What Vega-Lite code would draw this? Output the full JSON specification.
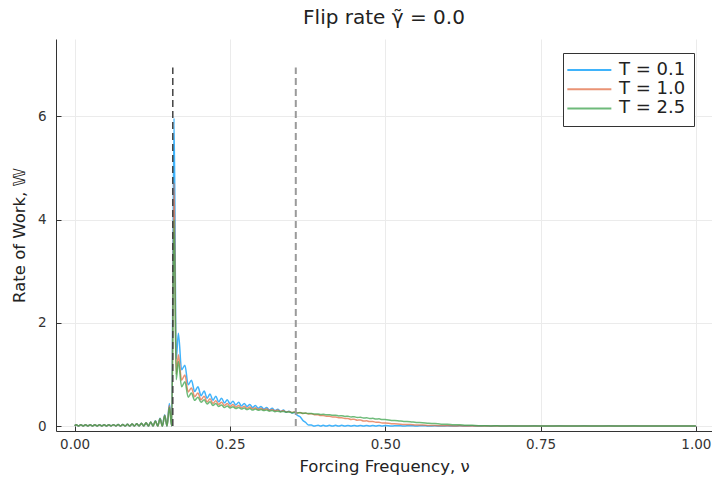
{
  "$schema": "https://vega.github.io/schema/vega-lite/v6.json",
  "width": 656,
  "height": 392,
  "autosize": {"type": "none"},
  "padding": {"left": 56, "top": 39, "right": 0, "bottom": 46},
  "background": "white",
  "title": {"text": "Flip rate γ̃ = 0.0", "fontSize": 20, "fontWeight": "normal", "color": "#222222", "anchor": "middle", "baseline": "alphabetic", "offset": 15, "dy": 20},
  "datasets": {
    "T01": [
      {"nu":0,"w":0.005},{"nu":0.0025,"w":0.025},{"nu":0.00625,"w":0.003},{"nu":0.01,"w":0.025},{"nu":0.01375,"w":0.003},{"nu":0.0175,"w":0.025},{"nu":0.02125,"w":0.003},{"nu":0.025,"w":0.025},{"nu":0.02875,"w":0.003},{"nu":0.0325,"w":0.025},{"nu":0.03625,"w":0.003},{"nu":0.04,"w":0.025},{"nu":0.04375,"w":0.003},{"nu":0.0475,"w":0.025},{"nu":0.05125,"w":0.003},{"nu":0.055,"w":0.027},{"nu":0.05875,"w":0.003},{"nu":0.0625,"w":0.028},{"nu":0.06625,"w":0.003},{"nu":0.07,"w":0.03},{"nu":0.07375,"w":0.002},{"nu":0.0775,"w":0.032},{"nu":0.08125,"w":0.002},{"nu":0.085,"w":0.035},{"nu":0.08875,"w":0.002},{"nu":0.0925,"w":0.04},{"nu":0.09625,"w":0.002},{"nu":0.1,"w":0.045},{"nu":0.10375,"w":0.001},{"nu":0.1075,"w":0.055},{"nu":0.11125,"w":0.001},{"nu":0.115,"w":0.065},{"nu":0.11875,"w":0.001},{"nu":0.1225,"w":0.08},{"nu":0.12625,"w":0},{"nu":0.13,"w":0.105},{"nu":0.13375,"w":0},{"nu":0.1375,"w":0.15},{"nu":0.14125,"w":0},{"nu":0.145,"w":0.22},{"nu":0.14875,"w":0},{"nu":0.1525,"w":0.44},{"nu":0.15625,"w":0},{"nu":0.16,"w":5.97},{"nu":0.1635,"w":1.3},
      {"nu":0.167,"w":1.8},{"nu":0.1722,"w":1.09},{"nu":0.1775,"w":1.18},{"nu":0.1828,"w":0.8},{"nu":0.188,"w":0.89},{"nu":0.1932,"w":0.67},{"nu":0.1985,"w":0.76},{"nu":0.2035,"w":0.59},{"nu":0.2085,"w":0.68},{"nu":0.2132,"w":0.54},{"nu":0.218,"w":0.62},{"nu":0.2226,"w":0.5},{"nu":0.2272,"w":0.58},{"nu":0.2318,"w":0.47},{"nu":0.2365,"w":0.54},{"nu":0.2411,"w":0.45},{"nu":0.2457,"w":0.51},{"nu":0.2502,"w":0.43},{"nu":0.2548,"w":0.48},{"nu":0.2594,"w":0.41},{"nu":0.264,"w":0.46},{"nu":0.2685,"w":0.39},{"nu":0.273,"w":0.44},{"nu":0.2775,"w":0.38},{"nu":0.282,"w":0.42},{"nu":0.2865,"w":0.36},{"nu":0.291,"w":0.4},{"nu":0.2955,"w":0.345},{"nu":0.3,"w":0.38},{"nu":0.3045,"w":0.33},{"nu":0.309,"w":0.36},{"nu":0.3135,"w":0.315},{"nu":0.318,"w":0.345},{"nu":0.3225,"w":0.3},{"nu":0.327,"w":0.325},{"nu":0.3315,"w":0.285},{"nu":0.336,"w":0.31},{"nu":0.3405,"w":0.27},{"nu":0.345,"w":0.29},{"nu":0.3495,"w":0.255},{"nu":0.354,"w":0.265},{"nu":0.3585,"w":0.21},{"nu":0.363,"w":0.18},{"nu":0.3675,"w":0.11},{"nu":0.372,"w":0.07},{"nu":0.3765,"w":0.02},{"nu":0.381,"w":0.02},{"nu":0.3855,"w":0},
      {"nu":0.392,"w":0.018},{"nu":0.396,"w":0},{"nu":0.4,"w":0.015},{"nu":0.405,"w":0},{"nu":0.41,"w":0.015},{"nu":0.415,"w":0},{"nu":0.42,"w":0.014},{"nu":0.425,"w":0},{"nu":0.43,"w":0.014},{"nu":0.435,"w":0},{"nu":0.44,"w":0.013},{"nu":0.445,"w":0},{"nu":0.45,"w":0.013},{"nu":0.455,"w":0},{"nu":0.46,"w":0.012},{"nu":0.465,"w":0},{"nu":0.47,"w":0.012},{"nu":0.475,"w":0},{"nu":0.48,"w":0.011},{"nu":0.485,"w":0},{"nu":0.49,"w":0.011},{"nu":0.495,"w":0},{"nu":0.5,"w":0.01},
      {"nu":0.51,"w":0},{"nu":0.52,"w":0.009},{"nu":0.53,"w":0},{"nu":0.54,"w":0.009},{"nu":0.55,"w":0},{"nu":0.56,"w":0.009},{"nu":0.57,"w":0},{"nu":0.58,"w":0.008},{"nu":0.59,"w":0},{"nu":0.6,"w":0.008},{"nu":0.61,"w":0},{"nu":0.62,"w":0.008},{"nu":0.63,"w":0},{"nu":0.64,"w":0.007},{"nu":0.65,"w":0},{"nu":0.66,"w":0.007},{"nu":0.67,"w":0},{"nu":0.68,"w":0.007},{"nu":0.69,"w":0},{"nu":0.7,"w":0.006},
      {"nu":0.72,"w":0},{"nu":0.74,"w":0.005},{"nu":0.76,"w":0},{"nu":0.78,"w":0.005},{"nu":0.8,"w":0},{"nu":0.82,"w":0.005},{"nu":0.84,"w":0},{"nu":0.86,"w":0.005},{"nu":0.88,"w":0},{"nu":0.9,"w":0.005},{"nu":0.92,"w":0},{"nu":0.94,"w":0.004},{"nu":0.96,"w":0},{"nu":0.98,"w":0.004},{"nu":1.0,"w":0}
    ],
    "T10": [
      {"nu":0,"w":0.005},{"nu":0.0025,"w":0.025},{"nu":0.00625,"w":0.003},{"nu":0.01,"w":0.025},{"nu":0.01375,"w":0.003},{"nu":0.0175,"w":0.025},{"nu":0.02125,"w":0.003},{"nu":0.025,"w":0.025},{"nu":0.02875,"w":0.003},{"nu":0.0325,"w":0.025},{"nu":0.03625,"w":0.003},{"nu":0.04,"w":0.025},{"nu":0.04375,"w":0.003},{"nu":0.0475,"w":0.025},{"nu":0.05125,"w":0.003},{"nu":0.055,"w":0.027},{"nu":0.05875,"w":0.003},{"nu":0.0625,"w":0.028},{"nu":0.06625,"w":0.003},{"nu":0.07,"w":0.03},{"nu":0.07375,"w":0.002},{"nu":0.0775,"w":0.032},{"nu":0.08125,"w":0.002},{"nu":0.085,"w":0.035},{"nu":0.08875,"w":0.002},{"nu":0.0925,"w":0.04},{"nu":0.09625,"w":0.002},{"nu":0.1,"w":0.045},{"nu":0.10375,"w":0.001},{"nu":0.1075,"w":0.055},{"nu":0.11125,"w":0.001},{"nu":0.115,"w":0.065},{"nu":0.11875,"w":0.001},{"nu":0.1225,"w":0.08},{"nu":0.12625,"w":0},{"nu":0.13,"w":0.1},{"nu":0.13375,"w":0},{"nu":0.1375,"w":0.14},{"nu":0.14125,"w":0},{"nu":0.145,"w":0.21},{"nu":0.14875,"w":0},{"nu":0.1525,"w":0.4},{"nu":0.15625,"w":0},{"nu":0.16,"w":4.71},{"nu":0.1635,"w":1.0},
      {"nu":0.167,"w":1.38},{"nu":0.1722,"w":0.89},{"nu":0.1775,"w":0.99},{"nu":0.1828,"w":0.66},{"nu":0.188,"w":0.74},{"nu":0.1932,"w":0.57},{"nu":0.1985,"w":0.64},{"nu":0.2035,"w":0.51},{"nu":0.2085,"w":0.58},{"nu":0.2132,"w":0.47},{"nu":0.218,"w":0.53},{"nu":0.2226,"w":0.44},{"nu":0.2272,"w":0.49},{"nu":0.2318,"w":0.42},{"nu":0.2365,"w":0.46},{"nu":0.2411,"w":0.4},{"nu":0.2457,"w":0.44},{"nu":0.2502,"w":0.38},{"nu":0.2548,"w":0.42},{"nu":0.2594,"w":0.37},{"nu":0.264,"w":0.4},{"nu":0.2685,"w":0.355},{"nu":0.273,"w":0.385},{"nu":0.2775,"w":0.345},{"nu":0.282,"w":0.37},{"nu":0.2865,"w":0.335},{"nu":0.291,"w":0.355},{"nu":0.2955,"w":0.325},{"nu":0.3,"w":0.345},{"nu":0.3045,"w":0.315},{"nu":0.309,"w":0.335},{"nu":0.3135,"w":0.305},{"nu":0.318,"w":0.32},{"nu":0.3225,"w":0.295},{"nu":0.327,"w":0.31},{"nu":0.3315,"w":0.285},{"nu":0.336,"w":0.3},{"nu":0.3405,"w":0.275},{"nu":0.345,"w":0.285},{"nu":0.3495,"w":0.265},{"nu":0.354,"w":0.275},{"nu":0.3585,"w":0.255},{"nu":0.363,"w":0.262},{"nu":0.3675,"w":0.245},{"nu":0.372,"w":0.25},{"nu":0.3765,"w":0.235},{"nu":0.381,"w":0.24},{"nu":0.3855,"w":0.222},
      {"nu":0.392,"w":0.218},{"nu":0.396,"w":0.205},{"nu":0.4,"w":0.205},{"nu":0.405,"w":0.19},{"nu":0.41,"w":0.192},{"nu":0.415,"w":0.175},{"nu":0.42,"w":0.177},{"nu":0.425,"w":0.16},{"nu":0.43,"w":0.162},{"nu":0.435,"w":0.145},{"nu":0.44,"w":0.147},{"nu":0.445,"w":0.13},{"nu":0.45,"w":0.132},{"nu":0.455,"w":0.115},{"nu":0.46,"w":0.117},{"nu":0.465,"w":0.1},{"nu":0.47,"w":0.102},{"nu":0.475,"w":0.087},{"nu":0.48,"w":0.088},{"nu":0.485,"w":0.074},{"nu":0.49,"w":0.075},{"nu":0.495,"w":0.06},{"nu":0.5,"w":0.062},
      {"nu":0.51,"w":0.045},{"nu":0.52,"w":0.042},{"nu":0.53,"w":0.032},{"nu":0.54,"w":0.03},{"nu":0.55,"w":0.02},{"nu":0.56,"w":0.02},{"nu":0.57,"w":0.012},{"nu":0.58,"w":0.012},{"nu":0.59,"w":0.006},{"nu":0.6,"w":0.008},{"nu":0.61,"w":0.003},{"nu":0.62,"w":0.005},{"nu":0.63,"w":0},{"nu":0.64,"w":0.004},{"nu":0.65,"w":0},{"nu":0.66,"w":0.003},{"nu":0.67,"w":0},{"nu":0.68,"w":0.003},{"nu":0.69,"w":0},{"nu":0.7,"w":0.003},
      {"nu":0.72,"w":0},{"nu":0.74,"w":0.003},{"nu":0.76,"w":0},{"nu":0.78,"w":0.003},{"nu":0.8,"w":0},{"nu":0.82,"w":0.003},{"nu":0.84,"w":0},{"nu":0.86,"w":0.003},{"nu":0.88,"w":0},{"nu":0.9,"w":0.003},{"nu":0.92,"w":0},{"nu":0.94,"w":0.003},{"nu":0.96,"w":0},{"nu":0.98,"w":0.003},{"nu":1.0,"w":0}
    ],
    "T25": [
      {"nu":0,"w":0.005},{"nu":0.0025,"w":0.025},{"nu":0.00625,"w":0.003},{"nu":0.01,"w":0.025},{"nu":0.01375,"w":0.003},{"nu":0.0175,"w":0.025},{"nu":0.02125,"w":0.003},{"nu":0.025,"w":0.025},{"nu":0.02875,"w":0.003},{"nu":0.0325,"w":0.025},{"nu":0.03625,"w":0.003},{"nu":0.04,"w":0.025},{"nu":0.04375,"w":0.003},{"nu":0.0475,"w":0.025},{"nu":0.05125,"w":0.003},{"nu":0.055,"w":0.027},{"nu":0.05875,"w":0.003},{"nu":0.0625,"w":0.028},{"nu":0.06625,"w":0.003},{"nu":0.07,"w":0.03},{"nu":0.07375,"w":0.002},{"nu":0.0775,"w":0.032},{"nu":0.08125,"w":0.002},{"nu":0.085,"w":0.035},{"nu":0.08875,"w":0.002},{"nu":0.0925,"w":0.04},{"nu":0.09625,"w":0.002},{"nu":0.1,"w":0.045},{"nu":0.10375,"w":0.001},{"nu":0.1075,"w":0.055},{"nu":0.11125,"w":0.001},{"nu":0.115,"w":0.065},{"nu":0.11875,"w":0.001},{"nu":0.1225,"w":0.08},{"nu":0.12625,"w":0},{"nu":0.13,"w":0.1},{"nu":0.13375,"w":0},{"nu":0.1375,"w":0.14},{"nu":0.14125,"w":0},{"nu":0.145,"w":0.2},{"nu":0.14875,"w":0},{"nu":0.1525,"w":0.36},{"nu":0.15625,"w":0},{"nu":0.16,"w":4.0},{"nu":0.1635,"w":0.9},
      {"nu":0.167,"w":1.25},{"nu":0.1722,"w":0.76},{"nu":0.1775,"w":0.86},{"nu":0.1828,"w":0.56},{"nu":0.188,"w":0.64},{"nu":0.1932,"w":0.5},{"nu":0.1985,"w":0.56},{"nu":0.2035,"w":0.46},{"nu":0.2085,"w":0.51},{"nu":0.2132,"w":0.43},{"nu":0.218,"w":0.47},{"nu":0.2226,"w":0.4},{"nu":0.2272,"w":0.44},{"nu":0.2318,"w":0.38},{"nu":0.2365,"w":0.41},{"nu":0.2411,"w":0.36},{"nu":0.2457,"w":0.39},{"nu":0.2502,"w":0.35},{"nu":0.2548,"w":0.375},{"nu":0.2594,"w":0.34},{"nu":0.264,"w":0.36},{"nu":0.2685,"w":0.33},{"nu":0.273,"w":0.35},{"nu":0.2775,"w":0.32},{"nu":0.282,"w":0.34},{"nu":0.2865,"w":0.31},{"nu":0.291,"w":0.33},{"nu":0.2955,"w":0.305},{"nu":0.3,"w":0.32},{"nu":0.3045,"w":0.3},{"nu":0.309,"w":0.31},{"nu":0.3135,"w":0.29},{"nu":0.318,"w":0.3},{"nu":0.3225,"w":0.28},{"nu":0.327,"w":0.29},{"nu":0.3315,"w":0.275},{"nu":0.336,"w":0.285},{"nu":0.3405,"w":0.27},{"nu":0.345,"w":0.275},{"nu":0.3495,"w":0.26},{"nu":0.354,"w":0.27},{"nu":0.3585,"w":0.255},{"nu":0.363,"w":0.26},{"nu":0.3675,"w":0.248},{"nu":0.372,"w":0.252},{"nu":0.3765,"w":0.242},{"nu":0.381,"w":0.246},{"nu":0.3855,"w":0.234},
      {"nu":0.392,"w":0.236},{"nu":0.396,"w":0.226},{"nu":0.4,"w":0.228},{"nu":0.405,"w":0.218},{"nu":0.41,"w":0.22},{"nu":0.415,"w":0.208},{"nu":0.42,"w":0.21},{"nu":0.425,"w":0.198},{"nu":0.43,"w":0.2},{"nu":0.435,"w":0.188},{"nu":0.44,"w":0.19},{"nu":0.445,"w":0.178},{"nu":0.45,"w":0.18},{"nu":0.455,"w":0.168},{"nu":0.46,"w":0.17},{"nu":0.465,"w":0.158},{"nu":0.47,"w":0.16},{"nu":0.475,"w":0.148},{"nu":0.48,"w":0.15},{"nu":0.485,"w":0.138},{"nu":0.49,"w":0.14},{"nu":0.495,"w":0.127},{"nu":0.5,"w":0.13},
      {"nu":0.51,"w":0.11},{"nu":0.52,"w":0.105},{"nu":0.53,"w":0.09},{"nu":0.54,"w":0.085},{"nu":0.55,"w":0.07},{"nu":0.56,"w":0.066},{"nu":0.57,"w":0.053},{"nu":0.58,"w":0.05},{"nu":0.59,"w":0.038},{"nu":0.6,"w":0.036},{"nu":0.61,"w":0.026},{"nu":0.62,"w":0.024},{"nu":0.63,"w":0.016},{"nu":0.64,"w":0.015},{"nu":0.65,"w":0.009},{"nu":0.66,"w":0.009},{"nu":0.67,"w":0.004},{"nu":0.68,"w":0.005},{"nu":0.69,"w":0},{"nu":0.7,"w":0.003},
      {"nu":0.72,"w":0},{"nu":0.74,"w":0.003},{"nu":0.76,"w":0},{"nu":0.78,"w":0.003},{"nu":0.8,"w":0},{"nu":0.82,"w":0.003},{"nu":0.84,"w":0},{"nu":0.86,"w":0.003},{"nu":0.88,"w":0},{"nu":0.9,"w":0.003},{"nu":0.92,"w":0},{"nu":0.94,"w":0.003},{"nu":0.96,"w":0},{"nu":0.98,"w":0.003},{"nu":1.0,"w":0}
    ],
    "vblack": [{"nu": 0.158, "y0": 0, "y1": 6.95}],
    "vgray": [{"nu": 0.356, "y0": 0, "y1": 6.95}]
  },
  "config": {
    "font": "DejaVu Sans",
    "view": {"stroke": null},
    "axis": {
      "grid": true,
      "gridColor": "#ebebeb",
      "gridWidth": 1,
      "domainColor": "#333333",
      "domainWidth": 1,
      "tickColor": "#333333",
      "tickSize": -5,
      "labelFontSize": 13.5,
      "labelColor": "#333333",
      "titleFontSize": 16.5,
      "titleFontWeight": "normal",
      "titleColor": "#222222"
    },
    "legend": {
      "strokeColor": "#333333",
      "fillColor": "white",
      "padding": 8,
      "symbolType": "M-2.3,0H5.7",
      "symbolSize": 121,
      "symbolStrokeWidth": 2,
      "symbolOpacity": 0.75,
      "labelFontSize": 18,
      "labelColor": "#222222",
      "labelOffset": 30,
      "rowPadding": 1.2,
      "cornerRadius": 0
    }
  },
  "layer": [
    {
      "data": {"name": "T01"},
      "mark": {"type": "line", "strokeWidth": 1.5, "opacity": 0.75, "interpolate": "monotone"},
      "encoding": {
        "x": {"field": "nu", "type": "quantitative", "scale": {"domain": [-0.03, 1.026], "nice": false, "zero": false},
              "axis": {"values": [0, 0.25, 0.5, 0.75, 1], "format": ".2f", "title": "Forcing Frequency, ν", "labelPadding": 11, "titlePadding": 8}},
        "y": {"field": "w", "type": "quantitative", "scale": {"domain": [-0.095, 7.5], "nice": false, "zero": false},
              "axis": {"values": [0, 2, 4, 6], "format": "d", "title": "Rate of Work, 𝕎", "labelPadding": 15, "titlePadding": 10}},
        "color": {"datum": "T = 0.1", "type": "nominal",
                  "scale": {"domain": ["T = 0.1", "T = 1.0", "T = 2.5"], "range": ["#009AFA", "#E36F47", "#3EA44E"]},
                  "legend": {"title": null, "orient": "none", "legendX": 507, "legendY": 14}}
      }
    },
    {
      "data": {"name": "T10"},
      "mark": {"type": "line", "strokeWidth": 1.5, "opacity": 0.75, "interpolate": "monotone"},
      "encoding": {
        "x": {"field": "nu", "type": "quantitative"},
        "y": {"field": "w", "type": "quantitative"},
        "color": {"datum": "T = 1.0", "type": "nominal"}
      }
    },
    {
      "data": {"name": "T25"},
      "mark": {"type": "line", "strokeWidth": 1.5, "opacity": 0.75, "interpolate": "monotone"},
      "encoding": {
        "x": {"field": "nu", "type": "quantitative"},
        "y": {"field": "w", "type": "quantitative"},
        "color": {"datum": "T = 2.5", "type": "nominal"}
      }
    },
    {
      "data": {"name": "vblack"},
      "mark": {"type": "rule", "color": "#444444", "strokeWidth": 1.5, "strokeDash": [7, 4]},
      "encoding": {
        "x": {"field": "nu", "type": "quantitative"},
        "y": {"field": "y0", "type": "quantitative"},
        "y2": {"field": "y1"}
      }
    },
    {
      "data": {"name": "vgray"},
      "mark": {"type": "rule", "color": "#9a9a9a", "strokeWidth": 2, "strokeDash": [7, 4]},
      "encoding": {
        "x": {"field": "nu", "type": "quantitative"},
        "y": {"field": "y0", "type": "quantitative"},
        "y2": {"field": "y1"}
      }
    }
  ]
}
